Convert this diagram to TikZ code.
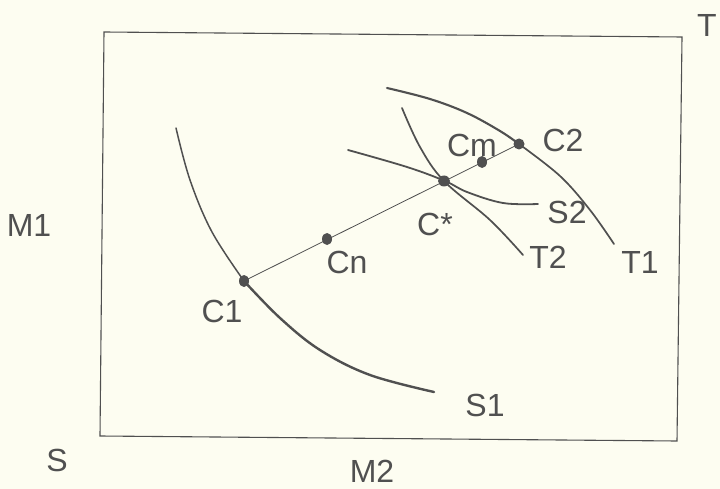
\documentclass[tikz,border=0pt]{standalone}
\usepackage{fontspec}
\setmainfont{Liberation Sans}
\usetikzlibrary{shapes.geometric}
\definecolor{ink}{RGB}{80,80,80}
\definecolor{paper}{RGB}{253,253,241}
\begin{document}
\begin{tikzpicture}[x=1pt,y=-1pt,
  lbl/.style={text=ink,inner sep=0pt,font=\fontsize{32}{36}\selectfont},
  curve/.style={draw=ink,line width=1.7pt,line cap=round},
  dot/.style={ellipse,fill=ink,inner sep=0pt,minimum width=10pt,minimum height=12pt}]
\fill[paper] (0,0) rectangle (720,489);
\useasboundingbox (0,0) rectangle (720,489);
% frame
\draw[ink,line width=1.1pt] (104,32) -- (682,37) -- (677,441) -- (100,436) -- cycle;
% curves
\draw[curve,line width=1.5pt] plot[smooth,tension=0.6] coordinates {(176,128) (190,180) (212,232) (244,281)};
\draw[curve,line width=2.4pt] plot[smooth,tension=0.6] coordinates {(244,281) (280,318) (320,350) (370,375) (434,392)};
\draw[curve,line width=2.1pt] plot[smooth,tension=0.6] coordinates {(387,88) (430,99) (467,113) (500,131) (519,144)};
\draw[curve,line width=1.7pt] plot[smooth,tension=0.6] coordinates {(519,144) (560,176) (590,210) (614,244)};
\draw[curve,line width=1.7pt] plot[smooth,tension=0.6] coordinates {(402,108) (420,147) (444,181) (490,220) (523,255)};
\draw[curve,line width=1.8pt] plot[smooth,tension=0.6] coordinates {(348,150) (407,167) (445,181) (467,192) (503,203) (538,204)};
% points
\node[dot] (c1) at (244,281) {};
\node[dot] (cn) at (327,239) {};
\node[dot,minimum width=12pt,minimum height=11pt] (cs) at (444,181) {};
\node[dot] (cm) at (482,162) {};
\node[dot,minimum width=11pt,minimum height=11pt] (c2) at (519,144) {};
\draw[ink,line width=0.8pt] (c1.center) -- (c2.center);
% labels
\node[lbl] (lc1) at (222,311) {C1};
\node[lbl] (lcn) at (347,262) {Cn};
\node[lbl] (lcs) at (435,224) {C*};
\node[lbl] (lcm) at (472,145) {Cm};
\node[lbl] (lc2) at (563,140) {C2};
\node[lbl] (ls2) at (567,212) {S2};
\node[lbl] (lt2) at (548,257) {T2};
\node[lbl] (lt1) at (640,262) {T1};
\node[lbl] (ls1) at (485,405) {S1};
\node[lbl] (lm1) at (29,225) {M1};
\node[lbl] (ls) at (57,460) {S};
\node[lbl] (lm2) at (372,471) {M2};
\node[lbl] (lt) at (707,25) {T};
\end{tikzpicture}
\end{document}
